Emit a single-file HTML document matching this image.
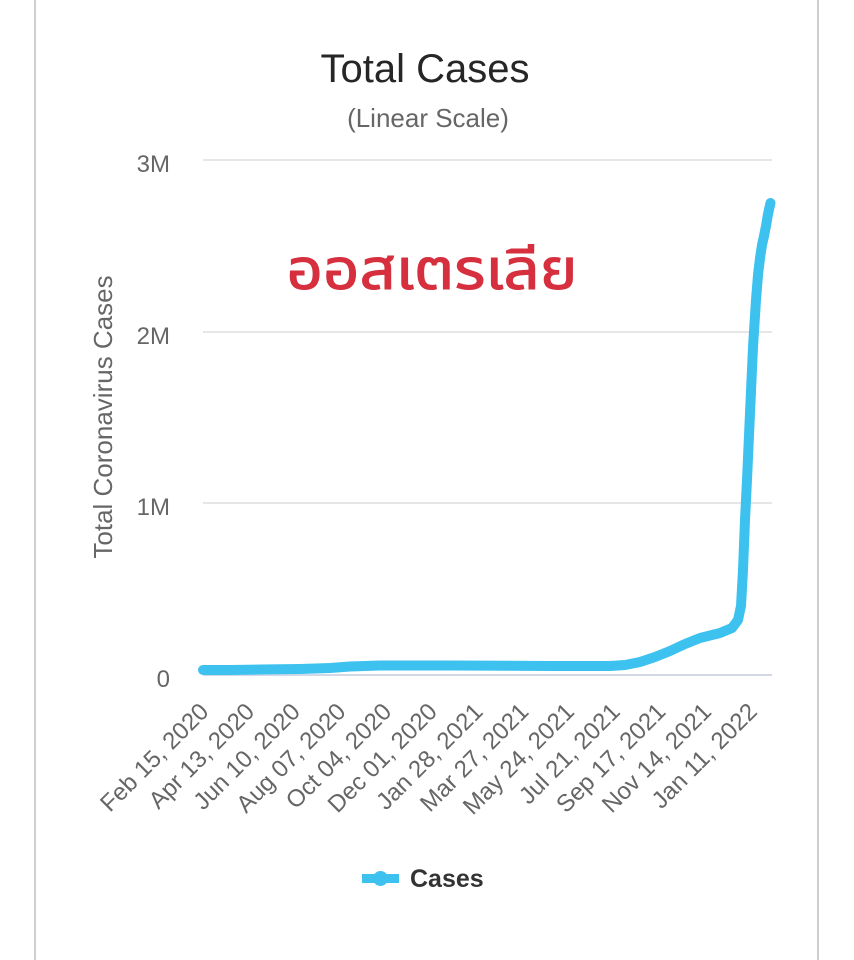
<!DOCTYPE html>
<html>
<head>
<meta charset="utf-8">
<style>
  html, body { margin: 0; padding: 0; background: #ffffff; }
  body { width: 854px; height: 960px; overflow: hidden; }
  svg { display: block; }
  .lbl { font-family: "Liberation Sans", Arial, sans-serif; fill: #666666; }
</style>
</head>
<body>
<svg width="854" height="960" viewBox="0 0 854 960" xmlns="http://www.w3.org/2000/svg">
  <rect x="0" y="0" width="854" height="960" fill="#ffffff"/>
  <!-- card borders -->
  <rect x="34" y="0" width="2" height="960" fill="#cfcfcf"/>
  <rect x="817" y="0" width="2" height="960" fill="#cfcfcf"/>

  <!-- title -->
  <text x="425" y="82" text-anchor="middle" font-family="Liberation Sans, Arial, sans-serif" font-size="40" fill="#262626">Total Cases</text>
  <text x="428" y="127" text-anchor="middle" font-family="Liberation Sans, Arial, sans-serif" font-size="26" fill="#666666">(Linear Scale)</text>

  <!-- gridlines -->
  <g fill="#e6e6e6">
    <rect x="203" y="159" width="569" height="2"/>
    <rect x="203" y="331" width="569" height="2"/>
    <rect x="203" y="502" width="569" height="2"/>
  </g>
  <rect x="203" y="674" width="569" height="2" fill="#d3d8e6"/>

  <!-- y labels -->
  <g class="lbl" font-size="24" text-anchor="end">
    <text x="170" y="172">3M</text>
    <text x="170" y="344">2M</text>
    <text x="170" y="515">1M</text>
    <text x="170" y="687">0</text>
  </g>

  <!-- y axis title -->
  <text class="lbl" font-size="26" text-anchor="middle" transform="translate(112,417) rotate(-90)">Total Coronavirus Cases</text>

  <!-- Thai annotation -->
  <text x="432" y="289" text-anchor="middle" font-family="Liberation Sans, 'Noto Sans Thai', 'Loma', 'Garuda', 'Tlwg Typo', 'Norasi', 'DejaVu Sans', sans-serif" font-size="56" fill="#d62f3e" stroke="#d62f3e" stroke-width="1" textLength="291" lengthAdjust="spacingAndGlyphs">ออสเตรเลีย</text>

  <!-- series line -->
  <path d="M203,670 L230,670 L260,669.5 L300,669 L330,668 L350,666.5 L380,665.5 L450,665.5 L550,666 L610,666 L625,665 L640,662 L655,657 L670,651 L685,644 L700,638 L720,633 L732,628 L738,620 L741,606 L743,570 L745,520 L747,480 L750,413 L753,347 L756,300 L758,275 L760,258 L762,245 L764,236 L766,226 L768,214 L770.5,203"
        fill="none" stroke="#3dc2ef" stroke-width="10" stroke-linecap="round" stroke-linejoin="round"/>

  <!-- x labels -->
  <g class="lbl" font-size="24" text-anchor="end">
    <text transform="translate(210,713) rotate(-45)">Feb 15, 2020</text>
    <text transform="translate(255.7,713) rotate(-45)">Apr 13, 2020</text>
    <text transform="translate(301.4,713) rotate(-45)">Jun 10, 2020</text>
    <text transform="translate(347.1,713) rotate(-45)">Aug 07, 2020</text>
    <text transform="translate(392.8,713) rotate(-45)">Oct 04, 2020</text>
    <text transform="translate(438.5,713) rotate(-45)">Dec 01, 2020</text>
    <text transform="translate(484.2,713) rotate(-45)">Jan 28, 2021</text>
    <text transform="translate(529.9,713) rotate(-45)">Mar 27, 2021</text>
    <text transform="translate(575.6,713) rotate(-45)">May 24, 2021</text>
    <text transform="translate(621.3,713) rotate(-45)">Jul 21, 2021</text>
    <text transform="translate(667,713) rotate(-45)">Sep 17, 2021</text>
    <text transform="translate(712.7,713) rotate(-45)">Nov 14, 2021</text>
    <text transform="translate(758.4,713) rotate(-45)">Jan 11, 2022</text>
  </g>

  <!-- legend -->
  <rect x="362" y="874" width="37" height="9" fill="#3dc2ef"/>
  <circle cx="380.5" cy="878.5" r="7.5" fill="#3dc2ef"/>
  <text x="410" y="887" font-family="Liberation Sans, Arial, sans-serif" font-size="25" font-weight="bold" fill="#333333">Cases</text>
</svg>
</body>
</html>
